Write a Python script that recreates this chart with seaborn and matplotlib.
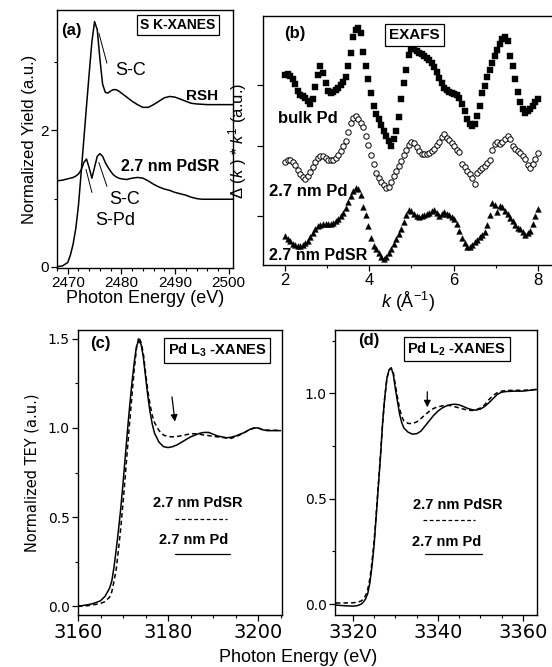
import matplotlib
matplotlib.use("Agg")
import matplotlib.pyplot as plt
from matplotlib.ticker import MultipleLocator
import numpy as np
import seaborn as sns

sns.set_theme(style="ticks", rc={
    "axes.edgecolor": "black",
    "axes.linewidth": 1.0,
    "xtick.color": "black",
    "ytick.color": "black",
    "text.color": "black",
    "axes.labelcolor": "black",
    "xtick.direction": "out",
    "ytick.direction": "out",
})
plt.rcParams["font.family"] = ["Liberation Sans", "DejaVu Sans"]
plt.rcParams["mathtext.fontset"] = "custom"
plt.rcParams["mathtext.rm"] = "Liberation Sans"
plt.rcParams["mathtext.it"] = "Liberation Sans:italic"
plt.rcParams["mathtext.bf"] = "Liberation Sans:bold"

# ---- (a) S K-edge XANES ----
e_a = [2468, 2469, 2470, 2470.5, 2471, 2471.5, 2472, 2472.5, 2473, 2473.5,
       2474, 2474.5, 2475, 2475.5, 2476, 2476.5, 2477, 2477.5, 2478, 2478.5,
       2479, 2479.5, 2480, 2481, 2482, 2483, 2484, 2485, 2486, 2487,
       2488, 2489, 2490, 2491, 2492, 2493, 2494, 2495, 2496, 2497,
       2498, 2499, 2500, 2501]
rsh = [0.00, 0.01, 0.06, 0.17, 0.33, 0.56, 0.90, 1.38, 1.87, 2.36,
       2.84, 3.30, 3.60, 3.48, 3.05, 2.68, 2.56, 2.55, 2.58, 2.60,
       2.60, 2.58, 2.55, 2.49, 2.43, 2.38, 2.34, 2.34, 2.38, 2.43,
       2.48, 2.50, 2.49, 2.46, 2.43, 2.40, 2.39, 2.385, 2.38, 2.38,
       2.38, 2.38, 2.38, 2.38]
pdsr_s = [1.26, 1.27, 1.29, 1.30, 1.31, 1.33, 1.36, 1.42, 1.53, 1.58,
          1.45, 1.30, 1.46, 1.62, 1.66, 1.62, 1.53, 1.46, 1.40, 1.35,
          1.32, 1.30, 1.29, 1.28, 1.30, 1.31, 1.30, 1.26, 1.21, 1.17,
          1.14, 1.12, 1.09, 1.07, 1.05, 1.02, 1.00, 0.99, 0.99, 0.99,
          0.99, 0.99, 0.99, 0.99]

# ---- (b) EXAFS, k from 2 to 8 in steps of 0.06 ----
chi_bulk = [7.62, 7.66, 7.60, 7.48, 7.25, 7.00, 6.84, 6.78, 6.70, 6.58,
            6.45, 6.68, 7.15, 7.65, 8.00, 7.72, 7.30, 7.00, 6.92, 6.96,
            7.02, 7.12, 7.22, 7.35, 7.55, 7.99, 8.50, 9.15, 9.45, 9.53,
            9.30, 8.55, 8.00, 7.45, 6.90, 6.40, 6.05, 5.85, 5.62, 5.40,
            5.20, 4.98, 4.78, 5.05, 5.40, 5.95, 6.65, 7.30, 7.85, 8.45,
            8.66, 8.66, 8.60, 8.53, 8.47, 8.40, 8.30, 8.22, 8.10, 7.95,
            7.75, 7.50, 7.30, 7.12, 7.02, 6.95, 6.90, 6.88, 6.82, 6.70,
            6.45, 6.20, 5.88, 5.65, 5.58, 5.68, 6.00, 6.40, 6.90, 7.20,
            7.55, 7.85, 8.12, 8.38, 8.62, 8.88, 9.08, 9.17, 8.98, 8.39,
            7.99, 7.45, 6.95, 6.55, 6.25, 6.12, 6.18, 6.28, 6.40, 6.55,
            6.65]
chi_pd = [4.12, 4.20, 4.22, 4.12, 4.02, 3.80, 3.64, 3.52, 3.44, 3.58,
          3.75, 3.95, 4.13, 4.28, 4.38, 4.36, 4.28, 4.22, 4.20, 4.22,
          4.28, 4.40, 4.56, 4.78, 4.98, 5.35, 5.72, 5.92, 5.98, 5.85,
          5.72, 5.55, 5.20, 4.80, 4.42, 4.05, 3.70, 3.50, 3.35, 3.22,
          3.10, 3.12, 3.35, 3.58, 3.78, 3.98, 4.18, 4.40, 4.60, 4.80,
          4.95, 4.90, 4.72, 4.56, 4.47, 4.44, 4.45, 4.48, 4.57, 4.66,
          4.80, 4.95, 5.13, 5.28, 5.12, 5.02, 4.90, 4.76, 4.62, 4.54,
          4.06, 3.92, 3.76, 3.64, 3.50, 3.26, 3.70, 3.80, 3.90, 3.99,
          4.10, 4.22, 4.60, 4.86, 4.93, 4.86, 4.94, 5.08, 5.20, 5.05,
          4.78, 4.66, 4.58, 4.49, 4.38, 4.24, 4.00, 3.90, 4.05, 4.25,
          4.51]
chi_pdsr = [1.15, 1.05, 0.95, 0.85, 0.79, 0.76, 0.76, 0.79, 0.88, 0.98,
            1.12, 1.28, 1.45, 1.55, 1.61, 1.63, 1.63, 1.64, 1.65, 1.68,
            1.75, 1.84, 1.95, 2.10, 2.30, 2.55, 2.78, 2.98, 3.08, 3.05,
            2.80, 2.32, 2.00, 1.56, 1.10, 0.78, 0.63, 0.47, 0.31, 0.25,
            0.33, 0.47, 0.65, 0.84, 1.04, 1.25, 1.45, 1.72, 2.00, 2.22,
            2.15, 2.06, 1.98, 1.93, 1.95, 1.99, 2.04, 2.09, 2.18, 2.22,
            2.08, 1.98, 2.06, 2.12, 2.05, 2.02, 1.94, 1.83, 1.63, 1.36,
            1.10, 0.88, 0.71, 0.74, 0.82, 0.91, 1.02, 1.12, 1.22, 1.33,
            1.62, 2.02, 2.50, 2.42, 2.12, 2.36, 2.31, 2.17, 2.05, 1.89,
            1.75, 1.62, 1.50, 1.44, 1.33, 1.19, 1.30, 1.36, 1.63, 1.97,
            2.24]
k_grid = np.round(np.linspace(2.0, 8.0, len(chi_bulk)), 2)

# ---- (c) Pd L3 XANES ----
e_c = [3160, 3161, 3162, 3163, 3164, 3165, 3166, 3167, 3167.5, 3168,
       3168.5, 3169, 3169.5, 3170, 3170.5, 3171, 3171.5, 3172, 3172.5, 3173,
       3173.5, 3174, 3174.5, 3175, 3175.5, 3176, 3176.5, 3177, 3178, 3179,
       3180, 3181, 3182, 3183, 3184, 3185, 3186, 3187, 3188, 3189,
       3190, 3191, 3192, 3193, 3194, 3195, 3196, 3197, 3198, 3199,
       3200, 3201, 3202, 3203, 3204, 3205]
l3_pd = [0.00, 0.003, 0.007, 0.012, 0.02, 0.03, 0.055, 0.10, 0.14, 0.22,
         0.32, 0.43, 0.55, 0.69, 0.84, 0.99, 1.13, 1.26, 1.37, 1.46,
         1.49, 1.47, 1.40, 1.29, 1.18, 1.09, 1.02, 0.97, 0.92, 0.895,
         0.89, 0.895, 0.905, 0.92, 0.935, 0.95, 0.96, 0.97, 0.975, 0.975,
         0.965, 0.955, 0.95, 0.945, 0.948, 0.955, 0.965, 0.975, 0.99, 1.00,
         1.00, 0.99, 0.985, 0.985, 0.985, 0.985]
l3_pdsr = [0.00, 0.00, 0.002, 0.005, 0.01, 0.015, 0.025, 0.05, 0.08, 0.14,
           0.21, 0.32, 0.44, 0.58, 0.73, 0.89, 1.04, 1.19, 1.33, 1.45,
           1.51, 1.48, 1.42, 1.31, 1.21, 1.13, 1.07, 1.03, 0.985, 0.96,
           0.952, 0.95, 0.952, 0.957, 0.962, 0.967, 0.968, 0.965, 0.96, 0.957,
           0.953, 0.95, 0.947, 0.943, 0.942, 0.95, 0.962, 0.975, 0.99, 0.998,
           1.00, 0.99, 0.988, 0.987, 0.987, 0.987]

# ---- (d) Pd L2 XANES ----
e_d = [3316, 3318, 3320, 3321, 3322, 3322.5, 3323, 3323.5, 3324, 3324.5,
       3325, 3325.5, 3326, 3326.5, 3327, 3327.5, 3328, 3328.5, 3329, 3329.5,
       3330, 3330.5, 3331, 3331.5, 3332, 3333, 3334, 3335, 3336, 3337,
       3338, 3339, 3340, 3341, 3342, 3343, 3344, 3345, 3346, 3347,
       3348, 3349, 3350, 3351, 3352, 3353, 3354, 3355, 3356, 3358,
       3360, 3362, 3364]
l2_pd = [-0.005, -0.008, -0.01, -0.008, 0.0, 0.01, 0.025, 0.05, 0.10, 0.18,
         0.28, 0.42, 0.56, 0.70, 0.86, 0.98, 1.07, 1.11, 1.12, 1.09,
         1.02, 0.96, 0.90, 0.86, 0.835, 0.815, 0.806, 0.808, 0.82, 0.845,
         0.87, 0.895, 0.915, 0.93, 0.94, 0.946, 0.948, 0.945, 0.937, 0.928,
         0.922, 0.92, 0.925, 0.937, 0.955, 0.975, 0.995, 1.005, 1.008, 1.01,
         1.01, 1.015, 1.02]
l2_pdsr = [0.005, 0.005, 0.006, 0.008, 0.015, 0.025, 0.04, 0.07, 0.12, 0.20,
           0.30, 0.43, 0.57, 0.71, 0.86, 0.98, 1.07, 1.11, 1.12, 1.10,
           1.04, 0.98, 0.925, 0.89, 0.868, 0.857, 0.856, 0.864, 0.88, 0.898,
           0.915, 0.928, 0.936, 0.94, 0.943, 0.941, 0.936, 0.93, 0.925, 0.92,
           0.918, 0.922, 0.93, 0.945, 0.97, 0.99, 1.003, 1.01, 1.013, 1.014,
           1.014, 1.016, 1.02]

W, H = 552, 667
fig = plt.figure(figsize=(W / 100, H / 100), dpi=100)


def rect(left, top, right, bottom):
    return [left / W, 1 - bottom / H, (right - left) / W, (bottom - top) / H]


ax_a = fig.add_axes(rect(57, 10, 233, 268))
ax_b = fig.add_axes(rect(263, 16, 553, 265))
ax_c = fig.add_axes(rect(78, 330, 282, 615))
ax_d = fig.add_axes(rect(335, 330, 537, 615))

box = dict(boxstyle="square,pad=0.25", fc="white", ec="black", lw=0.9)
line_kw = dict(color="black", lw=1.1)

# (a)
sns.lineplot(x=e_a, y=rsh, ax=ax_a, **line_kw)
sns.lineplot(x=e_a, y=pdsr_s, ax=ax_a, **line_kw)
ax_a.set_xlim(2468, 2500.8)
ax_a.set_ylim(-0.02, 3.77)
ax_a.set_xticks([2470, 2480, 2490, 2500])
ax_a.xaxis.set_minor_locator(MultipleLocator(2))
ax_a.set_yticks([0, 2])
ax_a.yaxis.set_minor_locator(MultipleLocator(1))
ax_a.tick_params(labelsize=11, length=4, width=0.9, pad=2)
ax_a.tick_params(which="minor", length=2, width=0.8)
ax_a.set_xlabel("Photon Energy (eV)", fontsize=13, labelpad=0)
ax_a.set_ylabel("Normalized Yield (a.u.)", fontsize=12, labelpad=2)
ax_a.text(2468.8, 3.47, "(a)", fontsize=12, fontweight="bold", va="center")
ax_a.text(2490.5, 3.55, "S K-XANES", fontsize=10, fontweight="bold",
          ha="center", va="center", bbox=box)
ax_a.plot([2475.8, 2477.3], [3.43, 2.99], color="black", lw=0.7)
ax_a.text(2481.7, 2.88, "S-C", fontsize=13, ha="center", va="center")
ax_a.text(2495.0, 2.50, "RSH", fontsize=11, fontweight="bold", ha="center", va="center")
ax_a.text(2489.0, 1.47, "2.7 nm PdSR", fontsize=11.5, fontweight="bold",
          ha="center", va="center")
ax_a.plot([2475.8, 2477.3], [1.53, 1.18], color="black", lw=0.7)
ax_a.text(2480.6, 0.99, "S-C", fontsize=13, ha="center", va="center")
ax_a.plot([2473.4, 2474.5], [1.43, 1.09], color="black", lw=0.7)
ax_a.text(2478.9, 0.68, "S-Pd", fontsize=13, ha="center", va="center")

# (b)
sns.scatterplot(x=k_grid, y=chi_bulk, ax=ax_b, marker="s", s=13, color="black",
                edgecolor="black", linewidth=0.3)
sns.scatterplot(x=k_grid, y=chi_pd, ax=ax_b, marker="o", s=15, color="white",
                edgecolor="black", linewidth=0.7)
sns.scatterplot(x=k_grid, y=chi_pdsr, ax=ax_b, marker="^", s=17, color="black",
                edgecolor="black", linewidth=0.3)
ax_b.set_xlim(1.476, 8.36)
ax_b.set_ylim(0, 10)
ax_b.set_xticks([2, 4, 6, 8])
ax_b.xaxis.set_minor_locator(MultipleLocator(1))
ax_b.set_yticks([1.97, 4.78, 7.23])
ax_b.set_yticklabels([])
ax_b.tick_params(labelsize=12, length=4, width=0.9, pad=2)
ax_b.tick_params(which="minor", length=2, width=0.8)
ax_b.spines["right"].set_visible(False)
ax_b.set_xlabel(r"$k$ (Å$^{-1}$)", fontsize=13, labelpad=1)
ax_b.set_ylabel(r"$\Delta$ ($k$ ) * $k^1$ (a.u.)", fontsize=12, labelpad=4)
ax_b.text(1.98, 9.3, "(b)", fontsize=12, fontweight="bold", va="center")
ax_b.text(5.07, 9.24, "EXAFS", fontsize=11, fontweight="bold", ha="center",
          va="center", bbox=box)
ax_b.text(1.83, 5.9, "bulk Pd", fontsize=12, fontweight="bold", va="center")
ax_b.text(1.62, 2.95, "2.7 nm Pd", fontsize=12, fontweight="bold", va="center")
ax_b.text(1.62, 0.38, "2.7 nm PdSR", fontsize=11.5, fontweight="bold", va="center")

# (c) and (d)
big_tick = {"family": "DejaVu Sans", "size": 14}
small_tick = {"family": "DejaVu Sans", "size": 10}


def xanes_panel(ax, e, solid, dashed):
    sns.lineplot(x=e, y=solid, ax=ax, **line_kw)
    sns.lineplot(x=e, y=dashed, ax=ax, color="black", lw=1.1,
                 linestyle=(0, (3, 2)))
    ax.tick_params(length=4, width=0.9, pad=2)
    ax.tick_params(which="minor", length=2, width=0.8)
    for lab in ax.get_xticklabels():
        lab.set_fontproperties(big_tick)
    for lab in ax.get_yticklabels():
        lab.set_fontproperties(small_tick)


ax_c.set_xlim(3160, 3205.3)
ax_c.set_ylim(-0.05, 1.55)
ax_c.set_xticks([3160, 3180, 3200])
ax_c.xaxis.set_minor_locator(MultipleLocator(5))
ax_c.set_yticks([0.0, 0.5, 1.0, 1.5])
ax_c.yaxis.set_minor_locator(MultipleLocator(0.25))
xanes_panel(ax_c, e_c, l3_pd, l3_pdsr)
ax_c.set_ylabel("Normalized TEY (a.u.)", family="DejaVu Sans", fontsize=10.5,
                labelpad=6)
ax_c.text(3162.7, 1.476, "(c)", fontsize=12, fontweight="bold", va="center")
ax_c.text(3190.9, 1.435, r"Pd L$_\mathbf{3}$ -XANES", fontsize=10.5,
          fontweight="bold", ha="center", va="center", bbox=box)
ax_c.annotate("", xy=(3181.6, 1.02), xytext=(3180.8, 1.19),
              arrowprops=dict(arrowstyle="-|>", color="black", lw=0.9,
                              mutation_scale=10))
ax_c.text(3186.7, 0.58, "2.7 nm PdSR", fontsize=10.5, fontweight="bold",
          ha="center", va="center")
ax_c.plot([3181.6, 3193.0], [0.49, 0.49], color="black", lw=0.9,
          linestyle=(0, (3, 2)))
ax_c.text(3185.6, 0.37, "2.7 nm Pd", fontsize=10.5, fontweight="bold",
          ha="center", va="center")
ax_c.plot([3181.6, 3193.8], [0.29, 0.29], color="black", lw=0.9)

ax_d.set_xlim(3315.8, 3363.3)
ax_d.set_ylim(-0.052, 1.30)
ax_d.set_xticks([3320, 3340, 3360])
ax_d.xaxis.set_minor_locator(MultipleLocator(5))
ax_d.set_yticks([0.0, 0.5, 1.0])
ax_d.yaxis.set_minor_locator(MultipleLocator(0.25))
xanes_panel(ax_d, e_d, l2_pd, l2_pdsr)
ax_d.set_ylabel("")
ax_d.text(3321.2, 1.25, "(d)", fontsize=12, fontweight="bold", va="center")
ax_d.text(3344.4, 1.21, r"Pd L$_\mathbf{2}$ -XANES", fontsize=10.5,
          fontweight="bold", ha="center", va="center", bbox=box)
ax_d.annotate("", xy=(3337.5, 0.92), xytext=(3337.5, 1.02),
              arrowprops=dict(arrowstyle="-|>", color="black", lw=0.9,
                              mutation_scale=10))
ax_d.text(3344.7, 0.47, "2.7 nm PdSR", fontsize=10.5, fontweight="bold",
          ha="center", va="center")
ax_d.plot([3336.5, 3348.7], [0.40, 0.40], color="black", lw=0.9,
          linestyle=(0, (3, 2)))
ax_d.text(3342.0, 0.295, "2.7 nm Pd", fontsize=10.5, fontweight="bold",
          ha="center", va="center")
ax_d.plot([3337.0, 3350.3], [0.237, 0.237], color="black", lw=0.9)

fig.text(298 / W, 1 - 657 / H, "Photon Energy (eV)", fontsize=13,
         ha="center", va="center")

fig.savefig("out.png", dpi=100)
